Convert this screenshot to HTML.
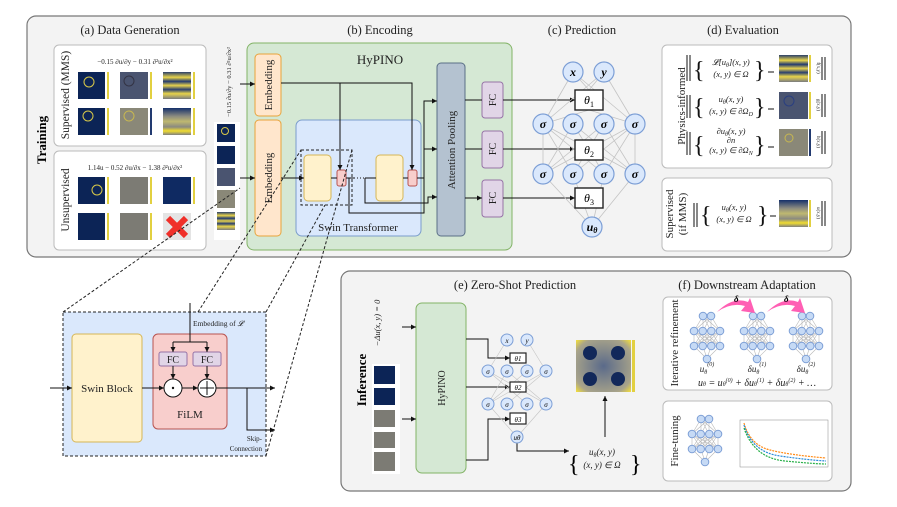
<!DOCTYPE html>
<html><head><meta charset="utf-8"><style>
body{margin:0;background:#fff}
svg{display:block;font-family:"Liberation Serif",serif}
.t{font-size:12.5px;fill:#222}
.s{font-size:9px;fill:#222}
.m{font-style:italic}
</style></head><body>
<svg width="897" height="507" viewBox="0 0 897 507" xmlns="http://www.w3.org/2000/svg">
<defs>
<marker id="a" markerWidth="6" markerHeight="6" refX="5" refY="3" orient="auto"><path d="M0,0.5 L5,3 L0,5.5 z" fill="#111"/></marker>
<linearGradient id="wave1" x1="0" y1="0" x2="0" y2="1">
<stop offset="0" stop-color="#2a3f6a"/><stop offset=".2" stop-color="#e8d44a"/><stop offset=".35" stop-color="#223a70"/><stop offset=".5" stop-color="#e6d24d"/><stop offset=".65" stop-color="#2a3f70"/><stop offset=".8" stop-color="#e8d44a"/><stop offset="1" stop-color="#7a7c80"/></linearGradient>
<linearGradient id="wave2" x1="0" y1="0" x2="0" y2="1">
<stop offset="0" stop-color="#15306a"/><stop offset=".3" stop-color="#8a8a80"/><stop offset=".5" stop-color="#bfb870"/><stop offset=".7" stop-color="#8a8a80"/><stop offset=".85" stop-color="#f0dc30"/><stop offset="1" stop-color="#7f7f80"/></linearGradient>
<radialGradient id="blob" cx=".5" cy=".5" r=".7"><stop offset="0" stop-color="#5a6a8a"/><stop offset=".8" stop-color="#a9a48a"/><stop offset="1" stop-color="#f2de3c"/></radialGradient>
<g id="net" stroke="#b8b8b8" stroke-width=".6">
<path d="M-4,0 L-13,15 M-4,0 L-4,15 M-4,0 L4,15 M-4,0 L13,15 M4,0 L-13,15 M4,0 L-4,15 M4,0 L4,15 M4,0 L13,15 M-13,15 L-4,30 M-13,15 L4,30 M-13,15 L13,30 M-4,15 L-13,30 M-4,15 L4,30 M-4,15 L13,30 M4,15 L-13,30 M4,15 L-4,30 M4,15 L13,30 M13,15 L-13,30 M13,15 L-4,30 M13,15 L4,30 M-13,15 L-13,30 M-4,15 L-4,30 M4,15 L4,30 M13,15 L13,30 M-13,30 L0,43 M-4,30 L0,43 M4,30 L0,43 M13,30 L0,43"/>
<g fill="#c6daf5" stroke="#7d9fd6" stroke-width="1">
<circle cx="-4" cy="0" r="3.8"/><circle cx="4" cy="0" r="3.8"/>
<circle cx="-13" cy="15" r="3.8"/><circle cx="-4.3" cy="15" r="3.8"/><circle cx="4.3" cy="15" r="3.8"/><circle cx="13" cy="15" r="3.8"/>
<circle cx="-13" cy="30" r="3.8"/><circle cx="-4.3" cy="30" r="3.8"/><circle cx="4.3" cy="30" r="3.8"/><circle cx="13" cy="30" r="3.8"/>
<circle cx="0" cy="43" r="3.8"/></g></g>
</defs>

<!-- TRAINING -->
<rect x="27" y="16" width="824" height="241" rx="9" fill="#f3f3f3" stroke="#777" stroke-width="1.2"/>
<text x="130" y="34" text-anchor="middle" class="t">(a) Data Generation</text>
<text x="380" y="34" text-anchor="middle" class="t">(b) Encoding</text>
<text x="582" y="34" text-anchor="middle" class="t">(c) Prediction</text>
<text x="743" y="34" text-anchor="middle" class="t">(d) Evaluation</text>
<text transform="translate(46,140) rotate(-90)" text-anchor="middle" style="font-size:13px;font-weight:bold">Training</text>

<rect x="54" y="45" width="152" height="101" rx="5" fill="#fff" stroke="#bbb"/>
<rect x="54" y="151" width="152" height="99" rx="5" fill="#fff" stroke="#bbb"/>
<text transform="translate(69,95) rotate(-90)" text-anchor="middle" class="t" style="font-size:11.5px">Supervised (MMS)</text>
<text transform="translate(69,200) rotate(-90)" text-anchor="middle" class="t" style="font-size:11.5px">Unsupervised</text>
<text x="135" y="64" text-anchor="middle" class="s" style="font-size:7px">−0.15 ∂u/∂y − 0.31 ∂²u/∂x²</text>
<text x="135" y="170" text-anchor="middle" class="s" style="font-size:7px">1.14u − 0.52 ∂u/∂x − 1.38 ∂²u/∂x²</text>
<rect x="78" y="72" width="27" height="27" fill="#0c2456"/><circle cx="89" cy="82" r="5" fill="none" stroke="#d8c848"/><rect x="107" y="72" width="2" height="27" fill="#e2d040"/>
<rect x="120" y="72" width="28" height="27" fill="#4a5470"/><circle cx="129" cy="81" r="5" fill="none" stroke="#334"/><rect x="150" y="72" width="2" height="27" fill="#e2d040"/>
<rect x="163" y="72" width="28" height="27" fill="url(#wave1)"/><rect x="193" y="72" width="2" height="27" fill="#e2d040"/>
<rect x="78" y="108" width="27" height="27" fill="#0c2456"/><circle cx="88" cy="116" r="5" fill="none" stroke="#d8c848"/><rect x="107" y="108" width="2" height="27" fill="#e2d040"/>
<rect x="120" y="108" width="28" height="27" fill="#8a8878"/><circle cx="129" cy="116" r="5" fill="none" stroke="#c8b850"/><rect x="150" y="108" width="2" height="27" fill="#223a70"/>
<rect x="163" y="108" width="28" height="27" fill="url(#wave2)"/><rect x="193" y="108" width="2" height="27" fill="#e2d040"/>
<rect x="78" y="177" width="27" height="27" fill="#0c2456"/><circle cx="97" cy="190" r="5" fill="none" stroke="#d8c848"/><rect x="107" y="177" width="2" height="27" fill="#e2d040"/>
<rect x="120" y="177" width="28" height="27" fill="#7c7b74"/><rect x="150" y="177" width="2" height="27" fill="#e2d040"/>
<rect x="163" y="177" width="28" height="27" fill="#0f2a62"/><rect x="193" y="177" width="2" height="27" fill="#e2d040"/>
<rect x="78" y="213" width="27" height="27" fill="#0c2456"/><rect x="107" y="213" width="2" height="27" fill="#e2d040"/>
<rect x="120" y="213" width="28" height="27" fill="#7c7b74"/><rect x="150" y="213" width="2" height="27" fill="#e2d040"/>
<rect x="163" y="213" width="28" height="27" fill="#e4e4e4"/>
<path d="M168,218 L186,236 M186,218 L168,236" stroke="#f0302a" stroke-width="6"/>

<rect x="214" y="122" width="26" height="118" fill="#fff"/>
<rect x="217" y="124" width="18" height="18" fill="#0c2456"/><circle cx="225" cy="131" r="3.5" fill="none" stroke="#d8c848"/>
<rect x="217" y="146" width="18" height="18" fill="#0c2456"/>
<rect x="217" y="168" width="18" height="18" fill="#4a5470"/>
<rect x="217" y="190" width="18" height="18" fill="#8a8878"/>
<rect x="217" y="212" width="18" height="18" fill="url(#wave1)"/>
<text transform="translate(231,82) rotate(-90)" text-anchor="middle" class="s" style="font-size:6.5px">−0.15 ∂u/∂y − 0.31 ∂²u/∂x²</text>

<rect x="247" y="43" width="265" height="207" rx="7" fill="#d5e8d4" stroke="#82b366"/>
<text x="380" y="64" text-anchor="middle" class="t" style="font-size:13px">HyPINO</text>
<rect x="255" y="54" width="26" height="62" rx="4" fill="#ffe6cc" stroke="#e8a33a"/>
<rect x="255" y="120" width="26" height="116" rx="4" fill="#ffe6cc" stroke="#e8a33a"/>
<text transform="translate(272,85) rotate(-90)" text-anchor="middle" class="t" style="font-size:11px">Embedding</text>
<text transform="translate(272,178) rotate(-90)" text-anchor="middle" class="t" style="font-size:11px">Embedding</text>
<rect x="296" y="120" width="125" height="116" rx="6" fill="#dae8fc" stroke="#7b9dcc"/>
<text x="358" y="231" text-anchor="middle" class="t" style="font-size:11px">Swin Transformer</text>
<rect x="304" y="155" width="27" height="46" rx="4" fill="#fff2cc" stroke="#d6b656"/>
<rect x="376" y="155" width="27" height="46" rx="4" fill="#fff2cc" stroke="#d6b656"/>
<rect x="337" y="170" width="9" height="16" rx="2" fill="#f8cecc" stroke="#b85450"/>
<rect x="408" y="170" width="9" height="16" rx="2" fill="#f8cecc" stroke="#b85450"/>
<rect x="301" y="150" width="51" height="55" fill="none" stroke="#222" stroke-dasharray="3,2"/>
<rect x="437" y="63" width="28" height="173" rx="4" fill="#b4c2d0" stroke="#5a6f86"/>
<text transform="translate(455,150) rotate(-90)" text-anchor="middle" class="t" style="font-size:11px">Attention Pooling</text>
<g fill="#e1d5e7" stroke="#9673a6"><rect x="482" y="82" width="21" height="36" rx="3"/><rect x="482" y="131" width="21" height="37" rx="3"/><rect x="482" y="180" width="21" height="37" rx="3"/></g>
<g class="t" style="font-size:10px" text-anchor="middle"><text transform="translate(496,100) rotate(-90)">FC</text><text transform="translate(496,149) rotate(-90)">FC</text><text transform="translate(496,198) rotate(-90)">FC</text></g>
<g stroke="#111" fill="none" stroke-width="1">
<path d="M240,84 L255,84" marker-end="url(#a)"/>
<path d="M240,178 L255,178" marker-end="url(#a)"/>
<path d="M281,83 L412,83 L412,170" marker-end="url(#a)"/>
<path d="M340,83 L340,170" marker-end="url(#a)"/>
<path d="M281,178 L304,178" marker-end="url(#a)"/>
<path d="M331,178 L337,178 M346,178 L354,178"/>
<path d="M354,178 L365,178" stroke-dasharray="1,2"/>
<path d="M365,178 L365,203 L428,203 L428,197 L437,197" marker-end="url(#a)"/>
<path d="M365,178 L376,178 M403,178 L408,178"/>
<path d="M417,178 L424,178 L424,101 L437,101" marker-end="url(#a)"/>
<path d="M349,178 L349,213 L424,213 L424,149 L437,149" marker-end="url(#a)"/>
<path d="M465,100 L482,100 M465,149 L482,149 M465,198 L482,198" marker-end="url(#a)"/>
<path d="M503,100 L575,100" marker-end="url(#a)"/>
<path d="M503,149 L575,149" marker-end="url(#a)"/>
<path d="M503,198 L575,198" marker-end="url(#a)"/>
</g>
<g stroke="#c4c4c4" stroke-width=".8">
<path d="M573,72 L543,124 M573,72 L635,124 M604,72 L543,124 M604,72 L635,124 M573,72 L589,90 M604,72 L589,90"/>
<path d="M543,124 L573,174 M543,124 L604,174 M543,124 L635,174 M573,124 L543,174 M573,124 L604,174 M573,124 L635,174 M604,124 L543,174 M604,124 L573,174 M604,124 L635,174 M635,124 L543,174 M635,124 L573,174 M635,124 L604,174 M543,124 L543,174 M635,124 L635,174"/>
<path d="M543,174 L592,227 M635,174 L592,227 M573,174 L592,227 M604,174 L592,227 M589,110 L543,124 M589,110 L635,124"/>
</g>
<g fill="#fff" stroke="#222" stroke-width="1.4"><rect x="575" y="90" width="28" height="20"/><rect x="575" y="140" width="28" height="20"/><rect x="575" y="188" width="28" height="20"/></g>
<g class="m" style="font-size:12px" text-anchor="middle"><text x="589" y="104">θ<tspan style="font-size:8px;font-style:normal" dy="3">1</tspan></text><text x="589" y="154">θ<tspan style="font-size:8px;font-style:normal" dy="3">2</tspan></text><text x="589" y="202">θ<tspan style="font-size:8px;font-style:normal" dy="3">3</tspan></text></g>
<g fill="#dae8fc" stroke="#7d9fd6" stroke-width="1.2">
<circle cx="573" cy="72" r="10"/><circle cx="604" cy="72" r="10"/>
<circle cx="543" cy="124" r="10"/><circle cx="573" cy="124" r="10"/><circle cx="604" cy="124" r="10"/><circle cx="635" cy="124" r="10"/>
<circle cx="543" cy="174" r="10"/><circle cx="573" cy="174" r="10"/><circle cx="604" cy="174" r="10"/><circle cx="635" cy="174" r="10"/>
<circle cx="592" cy="227" r="10"/></g>
<g class="m" style="font-size:12px" text-anchor="middle" font-weight="bold"><text x="573" y="76">x</text><text x="604" y="76">y</text>
<text x="543" y="128">σ</text><text x="573" y="128">σ</text><text x="604" y="128">σ</text><text x="635" y="128">σ</text>
<text x="543" y="178">σ</text><text x="573" y="178">σ</text><text x="604" y="178">σ</text><text x="635" y="178">σ</text>
<text x="592" y="231">u<tspan style="font-size:8px" dy="2">θ</tspan></text></g>

<rect x="662" y="45" width="170" height="123" rx="5" fill="#fff" stroke="#bbb"/>
<rect x="662" y="178" width="170" height="73" rx="5" fill="#fff" stroke="#bbb"/>
<text transform="translate(685,106) rotate(-90)" text-anchor="middle" class="t" style="font-size:11px">Physics-informed</text>
<text transform="translate(673,214) rotate(-90)" text-anchor="middle" class="t" style="font-size:11px">Supervised</text>
<text transform="translate(686,214) rotate(-90)" text-anchor="middle" class="t" style="font-size:11px">(if MMS)</text>
<g stroke="#111" stroke-width="1">
<path d="M687,55 V81 M690,55 V81 M687,95 V118 M690,95 V118 M687,132 V155 M690,132 V155 M694,203 V227 M697,203 V227"/>
<path d="M822,57 V80 M825,57 V80 M822,94 V117 M825,94 V117 M822,131 V154 M825,131 V154 M822,201 V226 M825,201 V226"/>
</g>
<g style="font-size:24px" fill="#111"><text x="693" y="78">{</text><text x="693" y="115">{</text><text x="693" y="153">{</text><text x="700" y="223">{</text>
<text x="754" y="78">}</text><text x="754" y="115">}</text><text x="754" y="153">}</text><text x="757" y="223">}</text></g>
<g class="s m" text-anchor="middle" style="font-size:8.5px">
<text x="731" y="65">𝓛[u<tspan style="font-size:6px" dy="2">θ</tspan><tspan dy="-2">](x, y)</tspan></text><text x="731" y="77">(x, y) ∈ Ω</text>
<text x="731" y="102">u<tspan style="font-size:6px" dy="2">θ</tspan><tspan dy="-2">(x, y)</tspan></text><text x="731" y="114">(x, y) ∈ ∂Ω<tspan style="font-size:6px" dy="2">D</tspan></text>
<text x="731" y="134">∂u<tspan style="font-size:6px" dy="2">θ</tspan><tspan dy="-2">(x, y)</tspan></text><text x="731" y="143">∂n</text><text x="731" y="153">(x, y) ∈ ∂Ω<tspan style="font-size:6px" dy="2">N</tspan></text>
<text x="734" y="210">u<tspan style="font-size:6px" dy="2">θ</tspan><tspan dy="-2">(x, y)</tspan></text><text x="734" y="222">(x, y) ∈ Ω</text></g>
<g stroke="#111"><path d="M768,72 H774 M768,109 H774 M768,147 H774 M770,216 H776"/></g>
<rect x="779" y="55" width="29" height="27" fill="url(#wave1)"/><rect x="809" y="55" width="2" height="27" fill="#e2d040"/>
<rect x="779" y="92" width="29" height="27" fill="#4a5470"/><circle cx="789" cy="101" r="5" fill="none" stroke="#2a3f80"/><rect x="809" y="92" width="2" height="27" fill="#e2d040"/>
<rect x="779" y="129" width="29" height="27" fill="#8a8878"/><circle cx="789" cy="138" r="4" fill="none" stroke="#c8b850"/><rect x="809" y="129" width="2" height="27" fill="#223a70"/>
<rect x="779" y="200" width="29" height="27" fill="url(#wave2)"/><rect x="809" y="200" width="2" height="27" fill="#e2d040"/>
<g class="s" style="font-size:5px"><text transform="translate(817,68) rotate(90)" text-anchor="middle">f(x,y)</text><text transform="translate(817,105) rotate(90)" text-anchor="middle">g(x,y)</text><text transform="translate(817,142) rotate(90)" text-anchor="middle">h(x,y)</text><text transform="translate(817,213) rotate(90)" text-anchor="middle">u(x,y)</text></g>

<g stroke="#222" stroke-dasharray="3,2" fill="none">
<path d="M63,312 L240,188"/><path d="M198,312 L301,150"/><path d="M266,312 L325,205"/><path d="M266,456 L352,150"/>
</g>
<rect x="63" y="312" width="203" height="144" fill="#dae8fc" stroke="#222" stroke-dasharray="3,2"/>
<rect x="72" y="334" width="70" height="108" rx="4" fill="#fff2cc" stroke="#d6b656"/>
<text x="107" y="392" text-anchor="middle" class="t" style="font-size:11px">Swin Block</text>
<rect x="153" y="334" width="74" height="95" rx="5" fill="#f8cecc" stroke="#b85450"/>
<text x="190" y="418" text-anchor="middle" class="t" style="font-size:11px">FiLM</text>
<rect x="159" y="352" width="28" height="14" rx="2" fill="#e1d5e7" stroke="#9673a6"/>
<rect x="193" y="352" width="28" height="14" rx="2" fill="#e1d5e7" stroke="#9673a6"/>
<text x="173" y="363" text-anchor="middle" class="t" style="font-size:10px">FC</text>
<text x="207" y="363" text-anchor="middle" class="t" style="font-size:10px">FC</text>
<text x="218" y="326" text-anchor="middle" class="s" style="font-size:7.5px">Embedding of <tspan class="m">𝓛</tspan></text>
<g stroke="#111" fill="none">
<path d="M190,303 V342 M173,342 H207"/>
<path d="M173,342 V352" marker-end="url(#a)"/><path d="M207,342 V352" marker-end="url(#a)"/>
<path d="M173,366 V379" marker-end="url(#a)"/><path d="M207,366 V379" marker-end="url(#a)"/>
<path d="M50,388 H72" marker-end="url(#a)"/><path d="M142,388 H164" marker-end="url(#a)"/><path d="M182,388 H198" marker-end="url(#a)"/><path d="M216,388 H275" marker-end="url(#a)"/>
<path d="M247,388 V430 H275" marker-end="url(#a)"/>
</g>
<circle cx="173" cy="388" r="9" fill="#fff" stroke="#111"/><circle cx="173" cy="388" r="1.2" fill="#111"/>
<circle cx="207" cy="388" r="9" fill="#fff" stroke="#111"/><path d="M207,381 V395 M200,388 H214" stroke="#111"/>
<text x="262" y="441" text-anchor="end" class="s" style="font-size:7px">Skip-</text>
<text x="262" y="451" text-anchor="end" class="s" style="font-size:7px">Connection</text>

<!-- INFERENCE -->
<rect x="341" y="271" width="510" height="220" rx="9" fill="#f3f3f3" stroke="#777" stroke-width="1.2"/>
<text x="515" y="289" text-anchor="middle" class="t">(e) Zero-Shot Prediction</text>
<text x="747" y="289" text-anchor="middle" class="t">(f) Downstream Adaptation</text>
<text transform="translate(366,380) rotate(-90)" text-anchor="middle" style="font-size:13px;font-weight:bold">Inference</text>
<text transform="translate(380,323) rotate(-90)" text-anchor="middle" class="s m" style="font-size:8.5px">−Δu(x, y) = 0</text>
<rect x="372" y="364" width="28" height="110" fill="#fff"/>
<rect x="374" y="366" width="21" height="18" fill="#0c2456"/>
<rect x="374" y="388" width="21" height="17" fill="#0c2456"/>
<rect x="374" y="410" width="21" height="17" fill="#7c7b74"/>
<rect x="374" y="432" width="21" height="16" fill="#7c7b74"/>
<rect x="374" y="452" width="21" height="19" fill="#7c7b74"/>
<rect x="416" y="303" width="50" height="170" rx="6" fill="#d5e8d4" stroke="#82b366"/>
<text transform="translate(445,388) rotate(-90)" text-anchor="middle" class="t" style="font-size:10px">HyPINO</text>
<g stroke="#111" fill="none">
<path d="M402,327 H416" marker-end="url(#a)"/><path d="M402,419 H416" marker-end="url(#a)"/>
<path d="M466,339 H488 V358 H510" marker-end="url(#a)"/>
<path d="M466,387 H510" marker-end="url(#a)"/>
<path d="M466,460 H488 V419 H510" marker-end="url(#a)"/>
<path d="M517,437 V451 H569" marker-end="url(#a)"/>
<path d="M605,437 V396" marker-end="url(#a)"/>
</g>
<g stroke="#c4c4c4" stroke-width=".6"><path d="M507,340 L488,371 M527,340 L546,371 M488,371 L527,404 M488,371 L546,404 M507,371 L488,404 M507,371 L546,404 M527,371 L488,404 M546,371 L507,404 M546,371 L488,404 M488,404 L517,437 M546,404 L517,437"/></g>
<g fill="#fff" stroke="#222" stroke-width="1.2"><rect x="510" y="353" width="16" height="10"/><rect x="510" y="382" width="16" height="10"/><rect x="510" y="413" width="16" height="11"/></g>
<g class="m" style="font-size:7px" text-anchor="middle"><text x="518" y="361">θ1</text><text x="518" y="390">θ2</text><text x="518" y="422">θ3</text></g>
<g fill="#dae8fc" stroke="#7d9fd6">
<circle cx="507" cy="340" r="6"/><circle cx="527" cy="340" r="6"/>
<circle cx="488" cy="371" r="6"/><circle cx="507" cy="371" r="6"/><circle cx="527" cy="371" r="6"/><circle cx="546" cy="371" r="6"/>
<circle cx="488" cy="404" r="6"/><circle cx="507" cy="404" r="6"/><circle cx="527" cy="404" r="6"/><circle cx="546" cy="404" r="6"/>
<circle cx="517" cy="437" r="6"/></g>
<g class="m" style="font-size:7px" text-anchor="middle"><text x="507" y="343">x</text><text x="527" y="343">y</text>
<text x="488" y="374">σ</text><text x="507" y="374">σ</text><text x="527" y="374">σ</text><text x="546" y="374">σ</text>
<text x="488" y="407">σ</text><text x="507" y="407">σ</text><text x="527" y="407">σ</text><text x="546" y="407">σ</text><text x="517" y="440">uθ</text></g>
<rect x="576" y="340" width="55" height="52" fill="url(#blob)"/>
<g fill="#12285a"><circle cx="590" cy="353" r="7"/><circle cx="618" cy="353" r="7"/><circle cx="590" cy="379" r="7"/><circle cx="618" cy="379" r="7"/></g>
<rect x="632" y="340" width="3" height="52" fill="#e2d040"/>
<g style="font-size:24px"><text x="568" y="472">{</text><text x="630" y="472">}</text></g>
<g class="s m" text-anchor="middle" style="font-size:9px"><text x="602" y="455">u<tspan style="font-size:6px" dy="2">θ</tspan><tspan dy="-2">(x, y)</tspan></text><text x="602" y="468">(x, y) ∈ Ω</text></g>

<rect x="663" y="297" width="169" height="93" rx="5" fill="#fff" stroke="#bbb"/>
<rect x="663" y="401" width="169" height="80" rx="5" fill="#fff" stroke="#bbb"/>
<text transform="translate(678,343) rotate(-90)" text-anchor="middle" class="t" style="font-size:11px">Iterative refinement</text>
<text transform="translate(678,441) rotate(-90)" text-anchor="middle" class="t" style="font-size:11px">Fine-tuning</text>
<use href="#net" x="707" y="316"/><use href="#net" x="757" y="316"/><use href="#net" x="806" y="316"/>
<use href="#net" x="705" y="419"/>
<g fill="#ff5fb4"><path d="M717,312 Q733,296 748,302 L750,298 L755,313 L741,311 L745,306 Q731,302 717,312 z"/><path d="M767,312 Q783,296 798,302 L800,298 L805,313 L791,311 L795,306 Q781,302 767,312 z"/></g>
<g class="m" style="font-size:9px;font-weight:bold"><text x="734" y="302">δ</text><text x="784" y="302">δ</text></g>
<g class="s m" style="font-size:9px" text-anchor="middle"><text x="707" y="372">u<tspan style="font-size:6px" dy="2">θ</tspan><tspan style="font-size:6px" dy="-8">(0)</tspan></text><text x="757" y="372">δu<tspan style="font-size:6px" dy="2">θ</tspan><tspan style="font-size:6px" dy="-8">(1)</tspan></text><text x="806" y="372">δu<tspan style="font-size:6px" dy="2">θ</tspan><tspan style="font-size:6px" dy="-8">(2)</tspan></text>
<text x="757" y="386" style="font-size:10px">u<tspan style="font-size:6px">θ</tspan> = u<tspan style="font-size:6px">θ</tspan><tspan style="font-size:6px" dy="-4">(0)</tspan><tspan dy="4"> + δu</tspan><tspan style="font-size:6px">θ</tspan><tspan style="font-size:6px" dy="-4">(1)</tspan><tspan dy="4"> + δu</tspan><tspan style="font-size:6px">θ</tspan><tspan style="font-size:6px" dy="-4">(2)</tspan><tspan dy="4"> + …</tspan></text></g>
<rect x="740" y="420" width="88" height="47" fill="#fff" stroke="#888" stroke-width=".5"/>
<g fill="none" stroke-width="1.2" stroke-dasharray="2,1">
<path d="M744,423 Q750,445 770,450 T826,458" stroke="#ff8c1a"/>
<path d="M744,425 Q752,452 780,456 T826,461" stroke="#2a8ad8"/>
<path d="M744,428 Q754,458 785,461 T826,464" stroke="#2ab04a"/></g>
</svg>
</body></html>
